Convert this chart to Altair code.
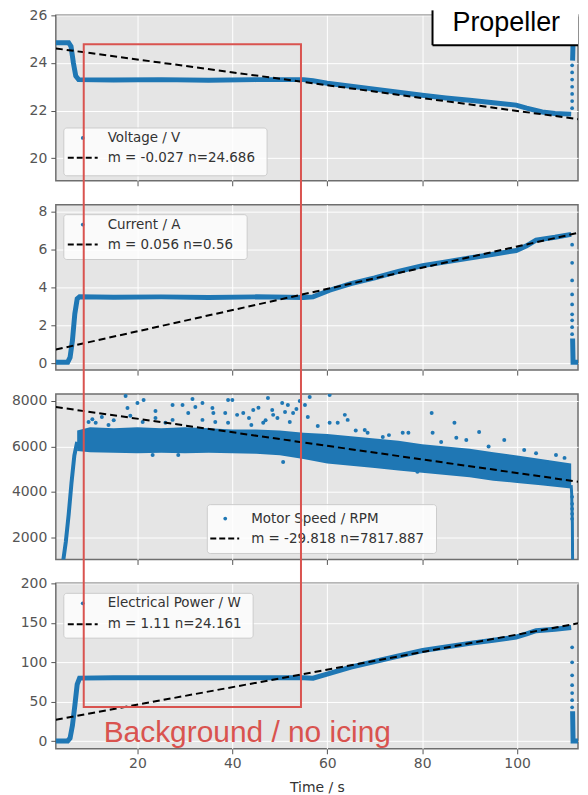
import altair as alt
import pandas as pd

BLUE = "#1f77b4"
RED = "#d9534f"
BG = "#e5e5e5"
FONT = "DejaVu Sans"
TXT = "#333333"
TICK = "#555555"

# ---------------- data ----------------
T_LIMITS = [2.8, 112.84]
X_TICKS = [20, 40, 60, 80, 100]

# Voltage / V
volt_run_t = [2.8, 5.5, 6.0, 6.5, 7.0, 7.6, 15, 25, 35, 45, 55, 57, 60, 65, 70, 75, 80, 85, 90, 95, 99.8, 102, 105.3, 108, 111.4]
volt_run_v = [24.85, 24.85, 24.7, 24.0, 23.45, 23.3, 23.28, 23.3, 23.27, 23.3, 23.3, 23.25, 23.15, 23.02, 22.9, 22.77, 22.64, 22.53, 22.43, 22.33, 22.23, 22.1, 21.94, 21.88, 21.85]
volt_drop_v = [22.1, 22.4, 22.7, 23.0, 23.3, 23.6, 23.9]
volt_off_t = [111.7, 111.8, 114.3]
volt_off_v = [24.1, 24.9, 24.9]

# Current / A
cur_run_t = [2.8, 5.3, 5.8, 6.3, 6.8, 7.3, 7.8, 15, 25, 35, 45, 55, 57, 60.5, 65, 70, 75, 80.1, 85, 90, 95, 99.8, 102, 104, 108, 111.4]
cur_run_v = [0.05, 0.05, 0.3, 1.2, 2.6, 3.4, 3.5, 3.48, 3.5, 3.47, 3.5, 3.47, 3.5, 3.85, 4.2, 4.5, 4.85, 5.15, 5.35, 5.55, 5.75, 5.95, 6.2, 6.5, 6.65, 6.8]
cur_drop_v = [6.26, 5.3, 4.37, 3.63, 3.1, 2.58, 2.26, 1.9, 1.53]
cur_off_t = [111.7, 111.8, 114.3]
cur_off_v = [1.3, 0.05, 0.05]

# Motor Speed / RPM
rpm_band_t = [7.3, 10, 15, 20, 25, 30, 35, 40, 45, 50, 55, 60, 65, 70, 75, 80, 85, 90, 95, 100, 105, 111.4]
rpm_band_lo = [5800, 5750, 5720, 5700, 5720, 5700, 5720, 5700, 5680, 5620, 5450, 5250, 5150, 5050, 4950, 4850, 4750, 4650, 4500, 4400, 4300, 4150]
rpm_band_hi = [6700, 6850, 6800, 6850, 6800, 6850, 6800, 6750, 6750, 6700, 6600, 6550, 6450, 6350, 6250, 6100, 6000, 5900, 5750, 5600, 5450, 5250]
rpm_rise_t = [4.3, 4.9, 5.5, 6.1, 6.7, 7.3]
rpm_rise_v = [900, 1800, 3000, 4400, 5600, 6200]
rpm_drop_v = [3790, 3480, 3260, 3040, 2820]
rpm_off_t = [111.4, 111.5, 111.65, 111.7]
rpm_off_v = [4300, 3950, 2650, 900]
rpm_out_t = [17.5, 20, 21.3, 23.8, 27.4, 29.5, 31.6, 32.2, 33.7, 35.8, 36, 39.1, 38.5, 30.7, 17.9, 11.2, 9.7, 13.9, 21.1, 23.8,
             25.9, 27.4, 33.7, 36.4, 39.1, 23.2, 28.6, 12.5, 15, 18.5, 10.5,
             40, 41, 42.3, 44.4, 47.5, 48.4, 48.6, 50.5, 51.7, 51.1, 52.8, 52.1, 46.5, 55.3, 55.9, 56.3, 60.5, 60.5, 62.2,
             63.7, 64.3, 67.9, 68.5, 71.7, 75.9, 50.7, 43.5, 45.5, 49.5, 53.5, 54.2, 44, 47,
             82, 86.8, 92, 77.1, 82.2, 87.2, 89.3, 97.3, 101.5, 108.2, 106.3, 79, 58, 66, 73, 84, 94, 104, 110]
rpm_out_v = [8220, 7910, 8040, 7560, 7820, 7820, 8090, 7740, 7910, 7690, 7470, 8040, 7470, 7470, 7690, 7040, 7080, 6950, 7080, 7250,
             7040, 7170, 7170, 7080, 7040, 5630, 5630, 7300, 7150, 7350, 7200,
             8040, 7390, 7470, 7600, 8130, 7600, 7390, 7910, 7820, 7520, 7470, 7080, 7040, 7820, 7300, 8180, 8260, 7040, 7040,
             7390, 7170, 6730, 6600, 6420, 6600, 5320, 7250, 7700, 7250, 7650, 8000, 6950, 7150,
             7470, 7040, 6640, 6600, 6600, 6380, 6290, 6290, 5850, 5630, 5320, 4890, 6900, 6700, 6500, 6200, 6000, 5700, 5500]

# Electrical Power / W
pow_run_t = [2.8, 5.3, 5.8, 6.3, 6.8, 7.3, 7.8, 15, 25, 35, 45, 55, 57, 60.5, 65, 70, 75, 80.1, 85, 90, 95, 99.8, 102, 104, 108, 111.4]
pow_run_v = [0.5, 0.5, 4, 20, 45, 72, 80, 80.5, 80.5, 80.5, 80.5, 80.5, 80, 86, 94, 101, 108, 115, 119.5, 124, 128, 132, 136, 140, 142, 144]
pow_drop_v = [119, 100, 83.5, 71, 61, 52, 43]
pow_off_t = [111.7, 111.8, 114.3]
pow_off_v = [38, 0.5, 0.5]

DROP_T = 111.6

# linear fits (slope m, intercept n)
fit_m = [-0.027, 0.056, -29.818, 1.11]
fit_n = [24.686, 0.56, 7817.887, 24.161]
series_names = ["Voltage / V", "Current / A", "Motor Speed / RPM", "Electrical Power / W"]
fit_labels = ["m = -0.027 n=24.686", "m = 0.056 n=0.56", "m = -29.818 n=7817.887", "m = 1.11 n=24.161"]

y_domains = [[19.05, 26], [-0.37, 8.37], [1036, 8306], [-9.5, 200]]
y_ticks = [[20, 22, 24, 26], [0, 2, 4, 6, 8], [2000, 4000, 6000, 8000], [0, 50, 100, 150, 200]]

W, H = 524, 166

xscale = alt.Scale(domain=T_LIMITS, nice=False, zero=False)


def xenc(last):
    kw = dict(values=X_TICKS, grid=True, gridColor="white", gridWidth=1, domain=False,
              ticks=True, tickSize=5, tickColor=TICK, tickWidth=1, labels=last,
              labelFont=FONT, labelFontSize=14, labelColor=TICK, labelPadding=3, format="d")
    if last:
        kw.update(titleFont=FONT, titleFontSize=14, titleFontWeight="normal",
                  titleColor=TXT, titlePadding=10)
        return alt.X("t:Q", scale=xscale, title="Time / s", axis=alt.Axis(**kw))
    return alt.X("t:Q", scale=xscale, title=None, axis=alt.Axis(**kw))


def yaxis(i):
    return alt.Axis(values=y_ticks[i], grid=True, gridColor="white", gridWidth=1, domain=False,
                    tickSize=5, tickColor=TICK, labelFont=FONT, labelFontSize=14,
                    labelColor=TICK, labelPadding=4, format="d")


def yenc(i, field="v"):
    return alt.Y(f"{field}:Q", scale=alt.Scale(domain=y_domains[i], nice=False, zero=False),
                 title=None, axis=yaxis(i))


def line_layer(t, v, i, last, width=5):
    df = pd.DataFrame({"t": t, "v": v, "o": list(range(len(t)))})
    return alt.Chart(df).mark_line(color=BLUE, strokeWidth=width, clip=True).encode(
        x=xenc(last), y=yenc(i), order="o:Q")


def dots_layer(t, v, i, last, size=14):
    df = pd.DataFrame({"t": t, "v": v})
    return alt.Chart(df).mark_circle(color=BLUE, size=size, opacity=1, clip=True).encode(
        x=xenc(last), y=yenc(i))


def fit_layer(i, last):
    t = T_LIMITS
    v = [fit_m[i] * tt + fit_n[i] for tt in t]
    df = pd.DataFrame({"t": t, "v": v})
    return alt.Chart(df).mark_line(color="black", strokeWidth=2, strokeDash=[7, 4], clip=True).encode(
        x=xenc(last), y=yenc(i))


ONE = pd.DataFrame({"k": [0]})


def legend_layers(i, bx0, bx1, by0, by1, mx, tx, dx0, dx1, r1, r2):
    base = alt.Chart(ONE)
    box = base.mark_rect(fill="white", fillOpacity=0.8, stroke="#cccccc", strokeWidth=1,
                         cornerRadius=3).encode(
        x=alt.value(bx0), x2=alt.value(bx1), y=alt.value(by0), y2=alt.value(by1))
    marker = base.mark_circle(color=BLUE, size=14, opacity=1).encode(
        x=alt.value(mx), y=alt.value(r1))
    dash = base.mark_rule(color="black", strokeWidth=2, strokeDash=[6, 3]).encode(
        x=alt.value(dx0), x2=alt.value(dx1), y=alt.value(r2))
    t1 = base.mark_text(text=series_names[i], align="left", baseline="middle", font=FONT,
                        fontSize=13.5, color=TXT).encode(x=alt.value(tx), y=alt.value(r1))
    t2 = base.mark_text(text=fit_labels[i], align="left", baseline="middle", font=FONT,
                        fontSize=13.5, color=TXT).encode(x=alt.value(tx), y=alt.value(r2))
    return [box, marker, dash, t1, t2]


base = alt.Chart(ONE)

# ---- panel 1: voltage ----
p1_layers = [
    line_layer(volt_run_t, volt_run_v, 0, False),
    dots_layer([DROP_T] * len(volt_drop_v), volt_drop_v, 0, False),
    line_layer(volt_off_t, volt_off_v, 0, False),
    fit_layer(0, False),
] + legend_layers(0, 8, 212, 113, 161, 27, 52, 12, 42, 123, 143)

prop_box = base.mark_rect(fill="white").encode(
    x=alt.value(378), x2=alt.value(W), y=alt.value(-5), y2=alt.value(30))
prop_left = base.mark_rule(color="black", strokeWidth=2).encode(
    x=alt.value(378), y=alt.value(-5), y2=alt.value(30))
prop_bottom = base.mark_rule(color="black", strokeWidth=2).encode(
    x=alt.value(378), x2=alt.value(W), y=alt.value(30))
prop_text = base.mark_text(text="Propeller", align="left", baseline="alphabetic",
                           font="Liberation Sans", fontSize=27, color="black").encode(
    x=alt.value(398), y=alt.value(16))
p1_layers += [prop_box, prop_left, prop_bottom, prop_text]

# ---- panel 2: current ----
p2_layers = [
    line_layer(cur_run_t, cur_run_v, 1, False),
    dots_layer([DROP_T] * len(cur_drop_v), cur_drop_v, 1, False),
    line_layer(cur_off_t, cur_off_v, 1, False),
    fit_layer(1, False),
] + legend_layers(1, 8, 192, 10, 55, 27, 52, 12, 42, 20, 40)

# ---- panel 3: motor speed ----
band_df = pd.DataFrame({"t": rpm_band_t, "v": rpm_band_lo, "hi": rpm_band_hi})
band = alt.Chart(band_df).mark_area(color=BLUE, opacity=1, clip=True).encode(
    x=xenc(False), y=yenc(2), y2="hi:Q")
p3_layers = [
    band,
    line_layer(rpm_rise_t, rpm_rise_v, 2, False, width=4),
    line_layer(rpm_off_t, rpm_off_v, 2, False, width=3),
    dots_layer([DROP_T] * len(rpm_drop_v), rpm_drop_v, 2, False),
    dots_layer(rpm_out_t, rpm_out_v, 2, False, size=16),
    fit_layer(2, False),
] + legend_layers(2, 152, 382, 111, 160, 170, 196, 155, 184, 125, 145)

# ---- panel 4: electrical power ----
p4_layers = [
    line_layer(pow_run_t, pow_run_v, 3, True),
    dots_layer([DROP_T] * len(pow_drop_v), pow_drop_v, 3, True),
    line_layer(pow_off_t, pow_off_v, 3, True),
    fit_layer(3, True),
] + legend_layers(3, 8, 198, 10, 55, 27, 52, 12, 42, 20, 41)

red_box = base.mark_rect(fillOpacity=0, stroke=RED, strokeWidth=2).encode(
    x=alt.value(28), x2=alt.value(246), y=alt.value(-541), y2=alt.value(124))
red_text = base.mark_text(text="Background / no icing", align="left", baseline="alphabetic",
                          font="Liberation Sans", fontSize=30, color=RED).encode(
    x=alt.value(48), y=alt.value(159))
p4_layers += [red_box, red_text]

panels = [alt.layer(*L).properties(width=W, height=H) for L in [p1_layers, p2_layers, p3_layers, p4_layers]]

chart = alt.vconcat(*panels, spacing=24, bounds="flush").properties(
    padding={"left": 2, "top": -2, "right": 0, "bottom": 0}
).configure_view(fill=BG, stroke="#6e6e6e", strokeWidth=1.5)

chart.save("out.html", embed_options={"renderer": "svg", "actions": False})
